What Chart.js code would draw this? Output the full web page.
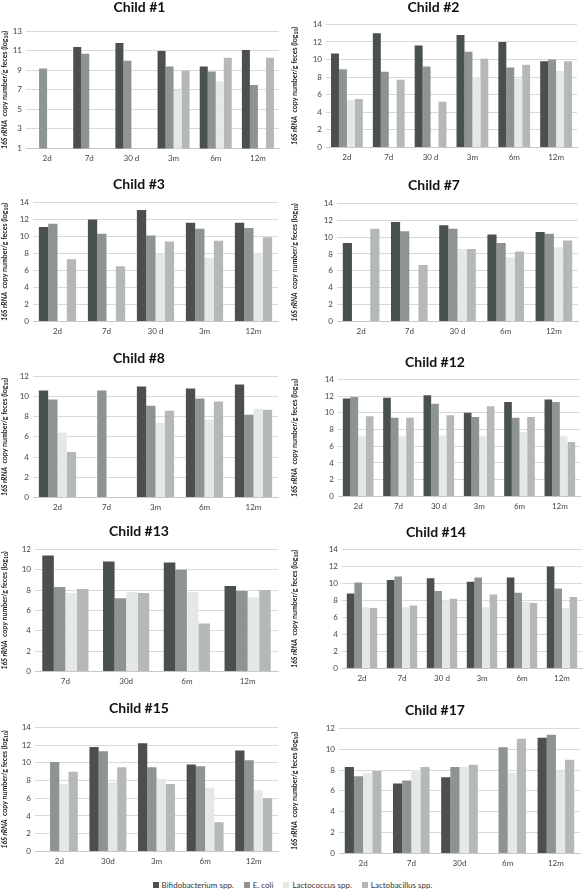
<!DOCTYPE html>
<html>
<head>
<meta charset="utf-8">
<script src="https://cdn.jsdelivr.net/npm/chart.js@4.4.0/dist/chart.umd.min.js"></script>
<style>
  body { margin: 0; background: #fff; width: 585px; height: 893px; position: relative; overflow: hidden; font-family: Lato, "Open Sans", sans-serif; }
  .panel { position: absolute; }
  #legend { position: absolute; top: 880px; left: 0; width: 585px; text-align: center; font-size: 8px; color: #333; }
  #legend span { margin: 0 5px; }
  #legend i { display: inline-block; width: 6px; height: 6px; margin-right: 3px; vertical-align: 0; }
</style>
</head>
<body>
<div id="legend"></div>
<script>
// series, same order in every child
const seriesNames = ['Bifidobacterium spp.', 'E. coli', 'Lactococcus spp.', 'Lactobacillus spp.'];
const seriesColors = ['#4a504f', '#8d9491', '#e5e8e7', '#b4b9b7'];

// values per child: [bifido, e.coli, lactococcus, lactobacillus]
const labels1 = ['2d', '7d', '30 d', '3m', '6m', '12m'];
const values1 = [
  [null, 11.4, 11.8, 11.0, 9.4, 11.1],
  [9.2, 10.7, 10.0, 9.4, 8.9, 7.5],
  [null, null, null, 7.0, 7.9, null],
  [null, null, null, 9.0, 10.3, 10.3]
];
const labels2 = ['2d', '7d', '30 d', '3m', '6m', '12m'];
const values2 = [
  [10.7, 13.0, 11.6, 12.8, 12.0, 9.8],
  [8.9, 8.6, 9.2, 10.9, 9.1, 10.0],
  [5.4, null, null, 8.0, 7.8, 8.7],
  [5.5, 7.7, 5.2, 10.1, 9.4, 9.8]
];
const labels3 = ['2d', '7d', '30 d', '3m', '12m'];
const values3 = [
  [11.1, 12.0, 13.1, 11.6, 11.6],
  [11.5, 10.3, 10.1, 10.9, 11.0],
  [null, null, 8.0, 7.5, 8.0],
  [7.3, 6.5, 9.4, 9.5, 9.9]
];
const labels7 = ['2d', '7d', '30 d', '6m', '12m'];
const values7 = [
  [9.3, 11.8, 11.4, 10.3, 10.6],
  [null, 10.7, 11.0, 9.3, 10.4],
  [null, null, 8.6, 7.6, 8.8],
  [11.0, 6.7, 8.6, 8.3, 9.6]
];
const labels8 = ['2d', '7d', '3m', '6m', '12m'];
const values8 = [
  [10.6, null, 11.0, 10.8, 11.2],
  [9.7, 10.6, 9.1, 9.8, 8.2],
  [6.4, null, 7.4, 7.7, 8.8],
  [4.5, null, 8.6, 9.5, 8.7]
];
const labels12 = ['2d', '7d', '30 d', '3m', '6m', '12m'];
const values12 = [
  [11.7, 11.8, 12.1, 10.0, 11.3, 11.6],
  [11.9, 9.4, 11.1, 9.5, 9.4, 11.3],
  [7.2, 7.2, 7.3, 7.2, 7.7, 7.2],
  [9.6, 9.4, 9.7, 10.8, 9.5, 6.5]
];
const labels13 = ['7d', '30d', '6m', '12m'];
const values13 = [
  [11.4, 10.8, 10.7, 8.4],
  [8.3, 7.2, 10.0, 7.9],
  [7.7, 7.8, 7.8, 7.3],
  [8.1, 7.7, 4.7, 8.0]
];
const labels14 = ['2d', '7d', '30 d', '3m', '6m', '12m'];
const values14 = [
  [8.8, 10.4, 10.6, 10.2, 10.7, 12.0],
  [10.1, 10.8, 9.1, 10.7, 8.9, 9.4],
  [7.2, 7.2, 8.0, 7.2, 7.8, 7.1],
  [7.1, 7.4, 8.2, 8.7, 7.7, 8.4]
];
const labels15 = ['2d', '30d', '3m', '6m', '12m'];
const values15 = [
  [null, 11.8, 12.2, 9.8, 11.4],
  [10.1, 11.3, 9.5, 9.6, 10.3],
  [7.6, 7.8, 8.2, 7.2, 6.9],
  [9.0, 9.5, 7.6, 3.3, 6.0]
];
const labels17 = ['2d', '7d', '30d', '6m', '12m'];
const values17 = [
  [8.3, 6.7, 7.3, null, 11.1],
  [7.4, 7.0, 8.3, 10.2, 11.4],
  [7.7, 8.0, 8.3, 7.8, 7.9],
  [7.9, 8.3, 8.5, 11.0, 9.0]
];

// layout of the ten panels (page pixels): title centre, plot top/bottom/left/right
const panels = [
  { title: 'Child #1', labels: labels1, values: values1, min: 1, max: 13, col: 0, tc: 7, pt: 31, pb: 148, pl: 26, pr: 279 },
  { title: 'Child #2', labels: labels2, values: values2, min: 0, max: 14, col: 1, tc: 7, pt: 24, pb: 147, pl: 326, pr: 577 },
  { title: 'Child #3', labels: labels3, values: values3, min: 0, max: 14, col: 0, tc: 184, pt: 202, pb: 321, pl: 33, pr: 278 },
  { title: 'Child #7', labels: labels7, values: values7, min: 0, max: 14, col: 1, tc: 185, pt: 203, pb: 321, pl: 337, pr: 578 },
  { title: 'Child #8', labels: labels8, values: values8, min: 0, max: 12, col: 0, tc: 358, pt: 376, pb: 497, pl: 33, pr: 278 },
  { title: 'Child #12', labels: labels12, values: values12, min: 0, max: 14, col: 1, tc: 362, pt: 379, pb: 496, pl: 338, pr: 580 },
  { title: 'Child #13', labels: labels13, values: values13, min: 0, max: 12, col: 0, tc: 531, pt: 549, pb: 671, pl: 35, pr: 278 },
  { title: 'Child #14', labels: labels14, values: values14, min: 0, max: 14, col: 1, tc: 532, pt: 549, pb: 668, pl: 342, pr: 582 },
  { title: 'Child #15', labels: labels15, values: values15, min: 0, max: 14, col: 0, tc: 708, pt: 727, pb: 851, pl: 35, pr: 278 },
  { title: 'Child #17', labels: labels17, values: values17, min: 0, max: 12, col: 1, tc: 710, pt: 728, pb: 853, pl: 339, pr: 580 }
];

const XAXIS_H = 20;
const TITLE_FS = 14;

// y axis title with italic "16S rRNA" and subscript 10
const yTitlePlugin = {
  id: 'yTitle',
  afterDraw(chart) {
    const ctx = chart.ctx;
    const area = chart.chartArea;
    const parts = [
      { t: '16S rRNA', f: 'italic bold 7px Lato', dy: 0 },
      { t: '  copy number/g feces (log', f: 'bold 7px Lato', dy: 0 },
      { t: '10', f: 'bold 5px Lato', dy: 1.5 },
      { t: ')', f: 'bold 7px Lato', dy: 0 }
    ];
    let total = 0;
    parts.forEach(p => { ctx.font = p.f; p.w = ctx.measureText(p.t).width; total += p.w; });
    ctx.save();
    ctx.translate(5, (area.top + area.bottom) / 2);
    ctx.rotate(-Math.PI / 2);
    ctx.fillStyle = '#222';
    ctx.textBaseline = 'middle';
    let x = -total / 2;
    parts.forEach(p => { ctx.font = p.f; ctx.fillText(p.t, x, p.dy); x += p.w; });
    ctx.restore();
  }
};

panels.forEach((p, i) => {
  const colLeft = p.col === 0 ? 0 : 290;
  const colWidth = p.col === 0 ? 290 : 295;
  const top = p.tc - TITLE_FS * 0.6;
  const height = p.pb - top + XAXIS_H;

  const div = document.createElement('div');
  div.className = 'panel';
  div.style.left = colLeft + 'px';
  div.style.top = top + 'px';
  div.style.width = colWidth + 'px';
  div.style.height = height + 'px';
  const canvas = document.createElement('canvas');
  div.appendChild(canvas);
  document.body.appendChild(div);

  new Chart(canvas, {
    type: 'bar',
    data: {
      labels: p.labels,
      datasets: seriesNames.map((name, k) => ({
        label: name,
        data: p.values[k],
        backgroundColor: seriesColors[k],
        borderWidth: 0,
        categoryPercentage: 0.76,
        barPercentage: 1.0
      }))
    },
    options: {
      responsive: true,
      maintainAspectRatio: false,
      animation: false,
      layout: { padding: { left: 0, top: 0, bottom: 0, right: colLeft + colWidth - p.pr } },
      plugins: {
        legend: { display: false },
        tooltip: { enabled: false },
        title: {
          display: true,
          text: p.title,
          color: '#111',
          font: { family: 'Lato', size: TITLE_FS, weight: 'bold' },
          padding: { top: 0, bottom: p.pt - p.tc - TITLE_FS * 0.6 }
        }
      },
      scales: {
        x: {
          grid: { display: false, drawTicks: false },
          border: { display: true, color: '#c8c8c8' },
          ticks: { color: '#444', font: { family: 'Lato', size: 8 }, padding: 5 },
          afterFit: s => { s.height = XAXIS_H; }
        },
        y: {
          min: p.min,
          max: p.max,
          ticks: { stepSize: 2, color: '#444', font: { family: 'Lato', size: 8 }, padding: 4 },
          grid: { color: '#d9d9d9', drawTicks: false },
          border: { display: false },
          afterFit: s => { s.width = p.pl - colLeft; }
        }
      }
    },
    plugins: [yTitlePlugin]
  });
});

// shared legend at the bottom
const legend = document.getElementById('legend');
seriesNames.forEach((name, k) => {
  const span = document.createElement('span');
  span.innerHTML = '<i style="background:' + seriesColors[k] + '"></i>' + name;
  legend.appendChild(span);
});
</script>
</body>
</html>
